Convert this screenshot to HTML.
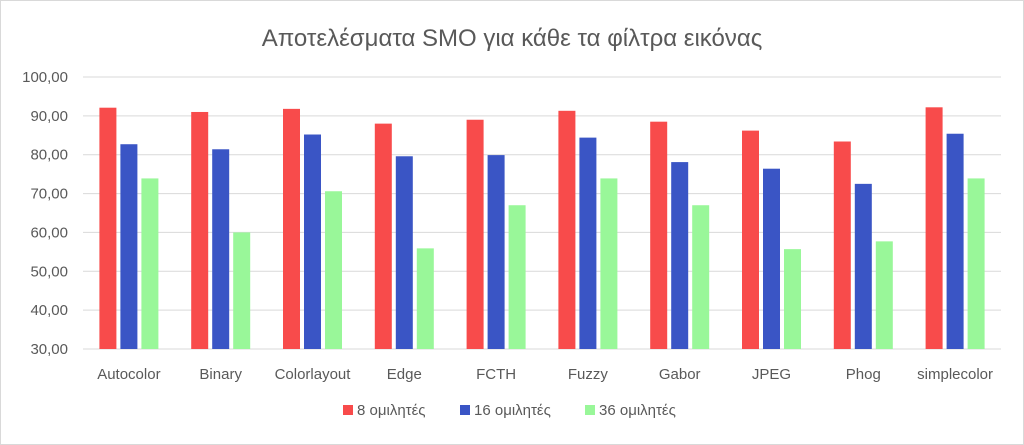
<!DOCTYPE html>
<html><head><meta charset="utf-8"><style>
body{margin:0;background:#fff;}
svg{display:block;font-family:"Liberation Sans",sans-serif;}
</style></head><body>
<svg id="chart" width="1024" height="445">
<rect x="0.5" y="0.5" width="1023" height="444" fill="#fff" stroke="#d9d9d9"/>
<text x="512" y="46" text-anchor="middle" font-size="24" fill="#595959">Αποτελέσματα SMO για κάθε τα φίλτρα εικόνας</text>
<g id="grid"></g><g id="bars"></g><g id="xlabels"></g>
<g>
<rect x="343" y="405" width="10" height="10" fill="#f84b4b"/>
<text x="357" y="415" font-size="15" fill="#595959">8 ομιλητές</text>
<rect x="460" y="405" width="10" height="10" fill="#3a55c5"/>
<text x="474" y="415" font-size="15" fill="#595959">16 ομιλητές</text>
<rect x="585" y="405" width="10" height="10" fill="#99f799"/>
<text x="599" y="415" font-size="15" fill="#595959">36 ομιλητές</text>
</g>
</svg>
<script>
const categories=["Autocolor","Binary","Colorlayout","Edge","FCTH","Fuzzy","Gabor","JPEG","Phog","simplecolor"];
const s8=[92.1,91.0,91.8,88.0,89.0,91.3,88.5,86.2,83.4,92.2];
const s16=[82.7,81.4,85.2,79.6,79.9,84.4,78.1,76.4,72.5,85.4];
const s36=[73.9,60.0,70.6,55.9,67.0,73.9,67.0,55.7,57.7,73.9];
const ticks=[30,40,50,60,70,80,90,100];
const NS="http://www.w3.org/2000/svg";
const x0=83,x1=1001,yMin=30,yMax=100,yTop=77,yBot=349;
const y=v=>yBot-(v-yMin)/(yMax-yMin)*(yBot-yTop);
const band=(x1-x0)/categories.length;
const cx=i=>x0+band*(i+0.5);
function mk(tag,attrs,parent,txt){const e=document.createElementNS(NS,tag);for(const k in attrs)e.setAttribute(k,attrs[k]);if(txt!==undefined)e.textContent=txt;parent.appendChild(e);return e;}
const grid=document.getElementById('grid');
ticks.forEach(t=>{
 const l=mk('line',{x1:x0,x2:x1,y1:y(t),y2:y(t),stroke:'#d9d9d9','stroke-width':1},grid);
 
 
 const tx=mk('text',{x:68,y:y(t)+5,'text-anchor':'end','font-size':15,fill:'#595959'},grid,t.toFixed(2).replace('.',','));
 
 
});
const bars=document.getElementById('bars'),xl=document.getElementById('xlabels');
const series=[[s8,'#f84b4b','8'],[s16,'#3a55c5','16'],[s36,'#99f799','36']];
const bw=17,gap=4;
categories.forEach((c,i)=>{
 series.forEach((s,j)=>{
  const bx=cx(i)+(j-1)*(bw+gap)-bw/2;
  const r=mk('rect',{x:bx,y:y(s[0][i]),width:bw,height:yBot-y(s[0][i]),fill:s[1]},bars);
  
  
 });
 const t=mk('text',{x:cx(i),y:379,'text-anchor':'middle','font-size':15,fill:'#595959'},xl,c);
 
 
});
</script>
</body></html>
